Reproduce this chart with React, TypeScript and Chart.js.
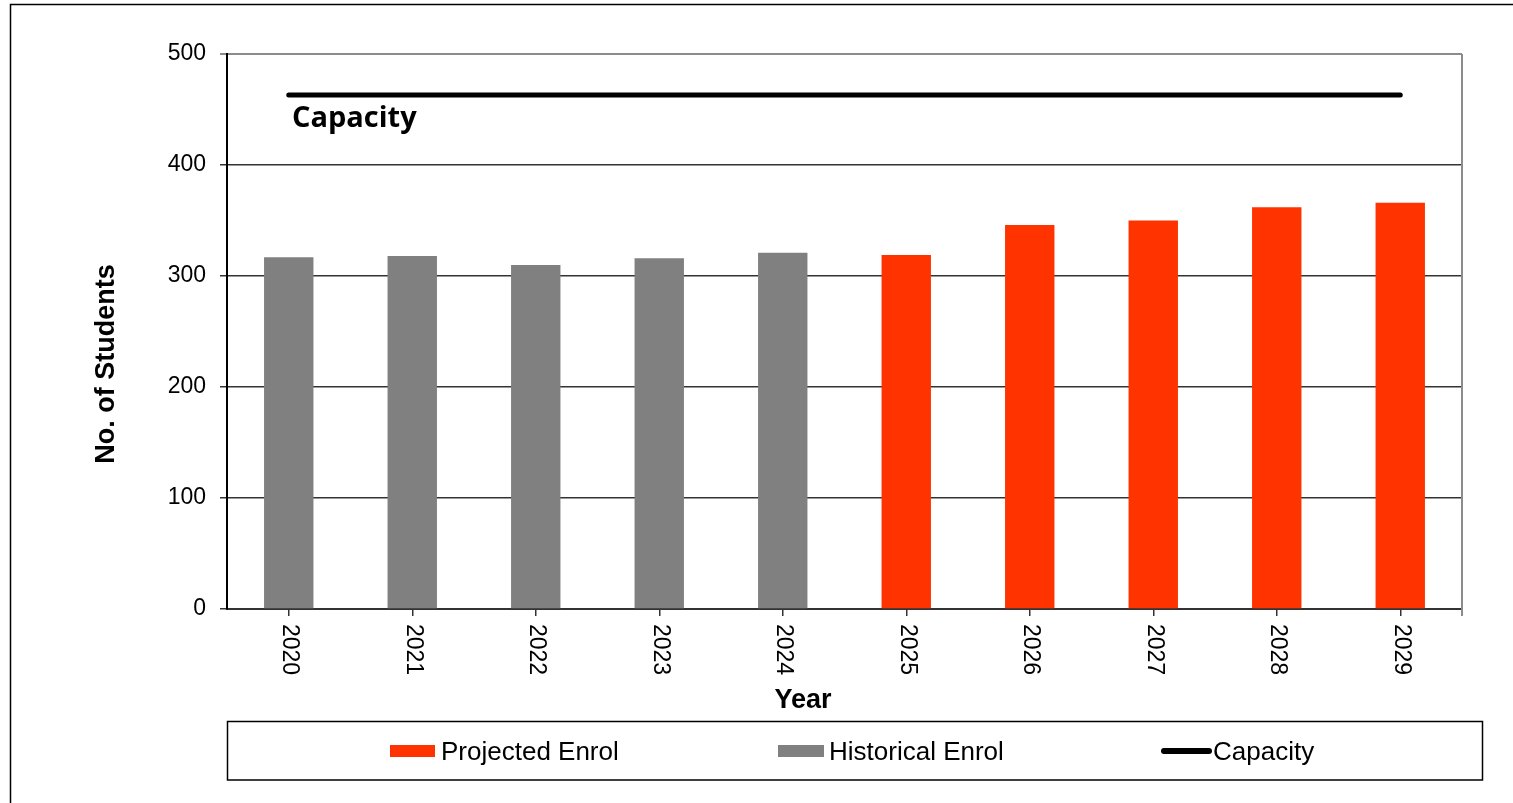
import React, { useEffect, useRef } from "react";
import { Chart, registerables } from "chart.js";

Chart.register(...registerables);

const years = ["2020", "2021", "2022", "2023", "2024", "2025", "2026", "2027", "2028", "2029"];
const historical = [317, 318, 310, 316, 321, null, null, null, null, null];
const projected = [null, null, null, null, null, 319, 346, 350, 362, 366];
const capacity = [463, 463, 463, 463, 463, 463, 463, 463, 463, 463];
const yTicks = [0, 100, 200, 300, 400, 500];

const RED = "#FF3300";
const GRAY = "#808080";
const FONT = "'Liberation Sans', Arial, sans-serif";

const decor = {
  id: "decor",
  afterDraw(chart: any) {
    const ctx = chart.ctx as CanvasRenderingContext2D;
    const area = chart.chartArea;
    const xs = chart.scales.x;
    ctx.save();
    // outer frame
    ctx.strokeStyle = "#000";
    ctx.lineWidth = 1.5;
    ctx.beginPath();
    ctx.moveTo(10.5, 820);
    ctx.lineTo(10.5, 4.5);
    ctx.lineTo(1530, 4.5);
    ctx.stroke();

    // right border of plot area
    ctx.strokeStyle = "#8c8c8c";
    ctx.lineWidth = 2;
    ctx.beginPath();
    ctx.moveTo(area.right, area.top);
    ctx.lineTo(area.right, area.bottom + 7);
    ctx.stroke();

    // x tick labels, rotated clockwise
    ctx.fillStyle = "#000";
    ctx.font = `23px ${FONT}`;
    ctx.textAlign = "left";
    ctx.textBaseline = "middle";
    years.forEach((lbl, i) => {
      const x = xs.getPixelForTick(i);
      ctx.save();
      ctx.translate(x + 1, area.bottom + 15);
      ctx.rotate(Math.PI / 2);
      ctx.fillText(lbl, 0, 0);
      ctx.restore();
    });

    // axis titles
    ctx.font = `bold 27px ${FONT}`;
    ctx.textAlign = "center";
    ctx.textBaseline = "alphabetic";
    ctx.fillText("Year", 803, 708);
    ctx.save();
    ctx.translate(114, 364);
    ctx.rotate(-Math.PI / 2);
    ctx.fillText("No. of Students", 0, 0);
    ctx.restore();

    // capacity label
    ctx.font = `bold 29px 'Open Sans', Lato, sans-serif`;
    ctx.textAlign = "left";
    ctx.fillText("Capacity", 292, 127);

    // legend box
    ctx.strokeStyle = "#000";
    ctx.lineWidth = 1.5;
    ctx.strokeRect(227.5, 721.5, 1255, 58.5);

    ctx.font = `26px ${FONT}`;
    ctx.textBaseline = "alphabetic";
    ctx.fillStyle = RED;
    ctx.fillRect(390, 745, 45, 12);
    ctx.fillStyle = "#000";
    ctx.fillText("Projected Enrol", 441, 760);

    ctx.fillStyle = GRAY;
    ctx.fillRect(778, 745, 46, 12);
    ctx.fillStyle = "#000";
    ctx.fillText("Historical Enrol", 829, 760);

    ctx.strokeStyle = "#000";
    ctx.lineWidth = 6;
    ctx.lineCap = "round";
    ctx.beginPath();
    ctx.moveTo(1164, 751);
    ctx.lineTo(1209, 751);
    ctx.stroke();
    ctx.fillText("Capacity", 1213, 760);

    ctx.restore();
  },
};

export default function App() {
  const ref = useRef<HTMLCanvasElement | null>(null);
  useEffect(() => {
    document.body.style.margin = "0";
    Chart.defaults.font.family = FONT;
    const chart = new Chart(ref.current as HTMLCanvasElement, {
      type: "bar",
      data: {
        labels: years,
        datasets: [
          {
            type: "line" as any,
            label: "Capacity",
            data: capacity,
            borderColor: "#000",
            borderWidth: 5,
            borderCapStyle: "round",
            pointRadius: 0,
            fill: false,
            order: 0,
          } as any,
          {
            label: "Projected Enrol",
            data: projected,
            backgroundColor: RED,
            barPercentage: 0.4,
            categoryPercentage: 1,
            grouped: false,
            order: 1,
          } as any,
          {
            label: "Historical Enrol",
            data: historical,
            backgroundColor: GRAY,
            barPercentage: 0.4,
            categoryPercentage: 1,
            grouped: false,
            order: 1,
          } as any,
        ],
      },
      options: {
        responsive: false,
        animation: false,
        layout: { padding: { top: 54, right: 51, left: 0, bottom: 0 } },
        plugins: { legend: { display: false }, tooltip: { enabled: false } },
        scales: {
          x: {
            offset: true,
            grid: {
              offset: false,
              drawOnChartArea: false,
              tickLength: 7,
              color: "#333",
              lineWidth: 1.5,
            },
            border: { color: "#333", width: 2 },
            ticks: { display: false },
            afterFit(scale: any) {
              scale.height = 194;
            },
          },
          y: {
            min: 0,
            max: 500,
            afterBuildTicks(scale: any) {
              scale.ticks = yTicks.map((v) => ({ value: v }));
            },
            ticks: {
              color: "#000",
              font: { size: 23, family: FONT },
              padding: 14,
            },
            grid: {
              tickLength: 7,
              color: (c: any) => (c.tick && c.tick.value === 500 ? "#8c8c8c" : "#333"),
              lineWidth: (c: any) => (c.tick && c.tick.value === 500 ? 2 : 1.5),
            },
            border: { color: "#000", width: 2 },
            afterFit(scale: any) {
              scale.width = 227;
            },
          },
        },
      },
      plugins: [decor],
    });
    return () => chart.destroy();
  }, []);
  return (
    <div style={{ position: "absolute", left: 0, top: 0, width: 1513, height: 803, background: "#fff" }}>
      <canvas ref={ref} width={1513} height={803} style={{ display: "block" }} />
    </div>
  );
}
